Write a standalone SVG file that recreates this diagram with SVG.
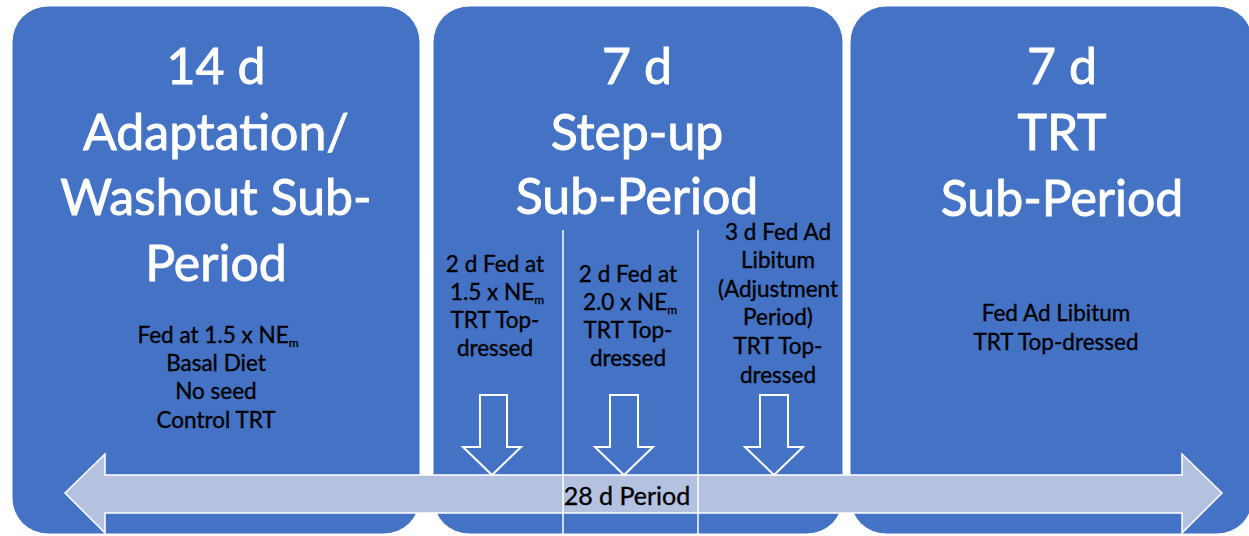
<svg xmlns="http://www.w3.org/2000/svg" width="1249" height="536" viewBox="0 0 1249 536">
<style>
.box{fill:#4472C4;stroke:#ffffff;stroke-width:1}
.title{font-family:Lato,"Open Sans",sans-serif;font-size:50px;fill:#ffffff;stroke:#ffffff;stroke-width:0.9;text-anchor:middle}
.body{font-family:Lato,"Open Sans",sans-serif;font-size:22.5px;fill:#000000;stroke:#000000;stroke-width:0.35;text-anchor:middle}
.big{font-size:25px}
.sub{font-size:12px}
.div{stroke:#ffffff;stroke-width:1.5}
.dn{fill:#4472C4;stroke:#ffffff;stroke-width:2}
</style>
<rect width="1249" height="536" fill="#ffffff"/>
<g id="box-adaptation">
<rect class="box" x="12" y="6" width="408" height="528" rx="36"/>
<text class="title" x="216" y="84">14 d</text>
<text class="title" x="216" y="150">Adaptation/</text>
<text class="title" x="216" y="215">Washout Sub-</text>
<text class="title" x="216" y="281">Period</text>
<text class="body" x="218" y="343">Fed at 1.5 x NE<tspan class="sub" dy="4">m</tspan></text>
<text class="body" x="216" y="371">Basal Diet</text>
<text class="body" x="216" y="399">No seed</text>
<text class="body" x="216" y="428">Control TRT</text>
</g>
<g id="box-stepup">
<rect class="box" x="433" y="6" width="410" height="528" rx="36"/>
<text class="title" x="637" y="84">7 d</text>
<text class="title" x="637" y="150">Step-up</text>
<text class="title" x="637" y="214">Sub-Period</text>
</g>
<g id="box-trt">
<rect class="box" x="850" y="6" width="403" height="528" rx="36"/>
<text class="title" x="1062" y="84">7 d</text>
<text class="title" x="1062" y="150">TRT</text>
<text class="title" x="1062" y="216">Sub-Period</text>
<text class="body" x="1056" y="321">Fed Ad Libitum</text>
<text class="body" x="1056" y="350">TRT Top-dressed</text>
</g>
<g id="connectors">
<polygon points="65,493 105,454 105,475 1182,475 1182,454 1222,493 1182,533 1182,513 105,513 105,533" fill="#B4C2E0" stroke="#ffffff" stroke-width="1.5"/>
<line class="div" x1="563" y1="230" x2="563" y2="536"/>
<line class="div" x1="698" y1="230" x2="698" y2="536"/>
<polygon class="dn" points="480,395 507,395 507,447 521,447 492,475 463,447 480,447"/>
<polygon class="dn" points="610,395 638,395 638,447 653,447 624,475 595,447 610,447"/>
<polygon class="dn" points="760,395 788,395 788,447 803,447 774,475 745,447 760,447"/>
<text class="body big" x="627" y="505">28 d Period</text>
</g>
<g id="step-col1">
<text class="body" x="495" y="272">2 d Fed at</text>
<text class="body" x="497" y="300">1.5 x NE<tspan class="sub" dy="4">m</tspan></text>
<text class="body" x="495" y="328">TRT Top-</text>
<text class="body" x="495" y="356">dressed</text>
</g>
<g id="step-col2">
<text class="body" x="628" y="282">2 d Fed at</text>
<text class="body" x="630" y="310">2.0 x NE<tspan class="sub" dy="4">m</tspan></text>
<text class="body" x="628" y="338">TRT Top-</text>
<text class="body" x="628" y="366">dressed</text>
</g>
<g id="step-col3">
<text class="body" x="778" y="240">3 d Fed Ad</text>
<text class="body" x="778" y="268">Libitum</text>
<text class="body" x="778" y="297">(Adjustment</text>
<text class="body" x="778" y="325">Period)</text>
<text class="body" x="778" y="354">TRT Top-</text>
<text class="body" x="778" y="383">dressed</text>
</g>
</svg>
